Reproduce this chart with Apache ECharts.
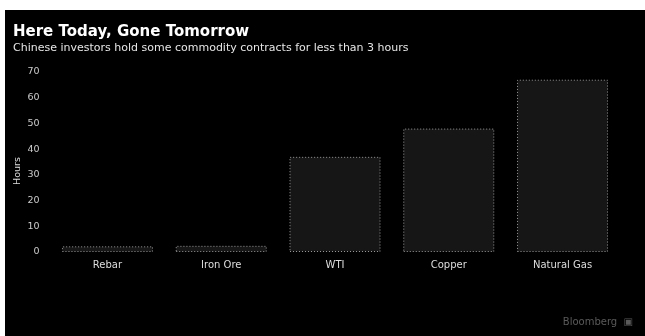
<!DOCTYPE html>
<html>
<head>
<meta charset="utf-8">
<script src="https://cdn.jsdelivr.net/npm/echarts@6/dist/echarts.min.js"></script>
<style>
  html, body { margin: 0; padding: 0; background: #ffffff; width: 645px; height: 336px; overflow: hidden; }
  #panel { position: absolute; left: 5px; top: 10px; width: 640px; height: 326px; background: #000000; }
</style>
</head>
<body>
<div id="panel"></div>
<script>
// Average holding period by contract
const categories = ['Rebar', 'Iron Ore', 'WTI', 'Copper', 'Natural Gas'];
const hoursHeld = [2.2, 2.4, 37, 48, 67];
const yTicks = [0, 10, 20, 30, 40, 50, 60, 70];

const chart = echarts.init(document.getElementById('panel'), null, { renderer: 'canvas' });

chart.setOption({
  backgroundColor: '#000000',
  animation: false,
  title: {
    text: 'Here Today, Gone Tomorrow',
    subtext: 'Chinese investors hold some commodity contracts for less than 3 hours',
    left: 8,
    top: 15,
    padding: 0,
    itemGap: 3,
    textStyle: { color: '#ffffff', fontFamily: 'DejaVu Sans', fontWeight: 'bold', fontSize: 15 },
    subtextStyle: { color: '#e6e6e6', fontFamily: 'DejaVu Sans', fontSize: 11 }
  },
  grid: { left: 45.6, right: 25.6, top: 62, bottom: 84, outerBoundsMode: 'none', containLabel: false },
  xAxis: {
    type: 'category',
    data: categories,
    axisLine: { show: false },
    axisTick: { show: false },
    axisLabel: { color: '#dddddd', fontFamily: 'DejaVu Sans', fontSize: 10, margin: 8 }
  },
  yAxis: {
    type: 'value',
    min: yTicks[0],
    max: yTicks[yTicks.length - 1],
    interval: 10,
    name: 'Hours',
    nameLocation: 'middle',
    nameGap: 28,
    nameMoveOverlap: false,
    nameTextStyle: { color: '#dddddd', fontFamily: 'DejaVu Sans', fontSize: 9.5, padding: [0, 18, 0, 0] },
    axisLine: { show: false },
    axisTick: { show: false },
    splitLine: { show: false },
    axisLabel: { color: '#cccccc', fontFamily: 'DejaVu Sans', fontSize: 9.5, margin: 11 }
  },
  series: [{
    type: 'bar',
    data: hoursHeld,
    barWidth: '80%',
    itemStyle: {
      color: '#161616',
      borderColor: '#9a9a9a',
      borderWidth: 1,
      borderType: [1, 2]
    }
  }],
  graphic: [{
    type: 'text',
    right: 12,
    bottom: 9,
    style: { text: 'Bloomberg  ▣', fill: '#5a5a5a', font: '10px DejaVu Sans' }
  }]
});
</script>
</body>
</html>
